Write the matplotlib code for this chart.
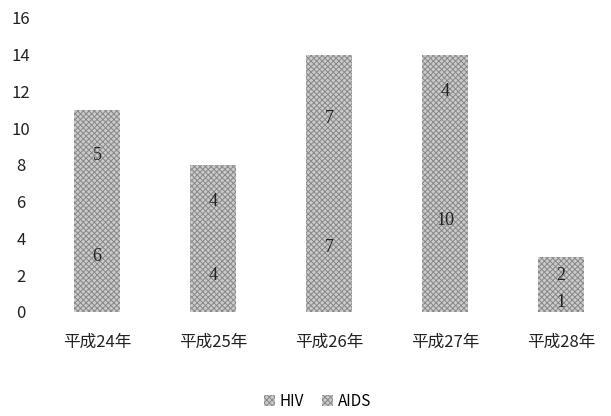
import matplotlib.pyplot as plt
import numpy as np

plt.rcParams['font.family'] = ['Noto Sans CJK JP', 'DejaVu Sans']
plt.rcParams['hatch.linewidth'] = 0.7

years = ['平成24年', '平成25年', '平成26年', '平成27年', '平成28年']
hiv = [6, 4, 7, 10, 1]
aids = [5, 4, 7, 4, 2]

fig = plt.figure(figsize=(6.11, 4.16), dpi=100)
ax = fig.add_axes([0.064, 0.25, 0.949, 0.707])

x = np.arange(len(years))
w = 0.39
b1 = ax.bar(x, hiv, w, color='#cbcbcb', hatch='xxxxxx', edgecolor='#888888', linewidth=0, label='HIV')
b2 = ax.bar(x, aids, w, bottom=hiv, color='#cbcbcb', hatch='xxxxxx', edgecolor='#888888', linewidth=0, label='AIDS')

for i in range(len(years)):
    ax.text(x[i], hiv[i] / 2, str(hiv[i]), ha='center', va='center', fontsize=13,
            family='Liberation Serif', color='#222222')
    ax.text(x[i], hiv[i] + aids[i] / 2, str(aids[i]), ha='center', va='center', fontsize=13,
            family='Liberation Serif', color='#222222')

ax.set_ylim(0, 16)
ax.set_xlim(-0.5, 4.5)
ax.set_yticks(np.arange(0, 17, 2))
ax.set_xticks(x)
ax.set_xticklabels(years, fontsize=12, color='#222222')
ax.tick_params(axis='y', labelsize=12, length=0, pad=13, labelcolor='#222222')
for lab in ax.get_yticklabels():
    lab.set_horizontalalignment('center')
ax.tick_params(axis='x', length=0, pad=16)
for s in ax.spines.values():
    s.set_visible(False)

fig.legend(handles=[b1, b2], labels=['HIV', 'AIDS'], loc='center', bbox_to_anchor=(0.52, 0.035),
           ncol=2, frameon=False, fontsize=11, handlelength=0.7, handleheight=0.7,
           handletextpad=0.3, columnspacing=1.2)

fig.savefig('out.png', dpi=100)
